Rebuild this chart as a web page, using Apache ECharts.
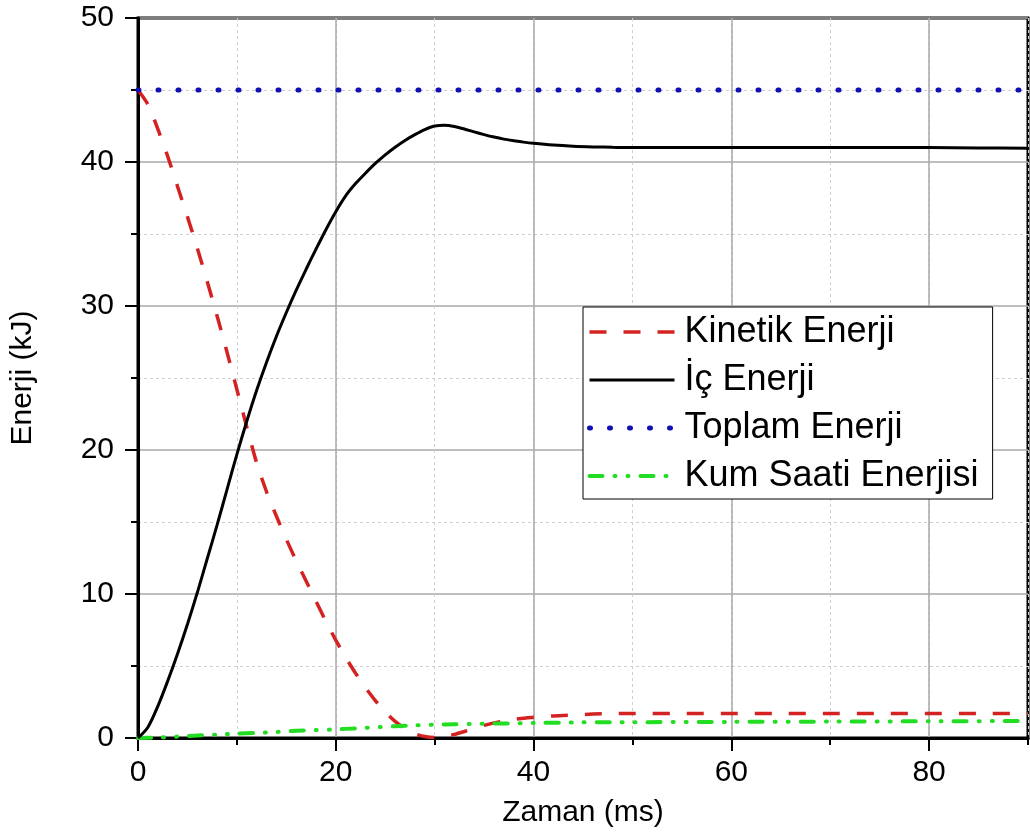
<!DOCTYPE html>
<html>
<head>
<meta charset="utf-8">
<script src="https://cdn.jsdelivr.net/npm/echarts@6/dist/echarts.min.js"></script>
<style>html,body{margin:0;padding:0;background:#fff}#c{width:1030px;height:836px}</style>
</head>
<body>
<div id="c"></div>
<script>
// Time axis (ms) for kinetic and internal energy
var timeMs = [0,1,2,3,4,5,6,7,8,9,10,11,12,13,14,15,16,17,18,19,20,21,22,23,24,25,26,27,28,29,30,31,32,33,34,35,36,37,38,39,40,42,44,46,48,50,55,60,65,70,75,80,85,90];
var kineticEnergy = [45,44.0,42.3,40.4,38.3,36.2,34.0,31.7,29.3,26.8,24.2,21.6,19.1,17.1,15.4,13.8,12.3,10.9,9.5,8.1,6.8,5.6,4.5,3.5,2.6,1.8,1.15,0.65,0.3,0.1,0.03,0.1,0.25,0.45,0.67,0.88,1.05,1.18,1.29,1.37,1.44,1.53,1.6,1.66,1.69,1.71,1.71,1.71,1.71,1.71,1.71,1.71,1.71,1.71];
var internalEnergy = [0,0.75,2.2,3.95,5.85,7.9,10.1,12.45,14.8,17.25,19.7,22.0,24.15,26.1,27.9,29.55,31.1,32.55,33.95,35.3,36.55,37.65,38.5,39.22,39.9,40.5,41.03,41.5,41.9,42.25,42.5,42.56,42.47,42.29,42.09,41.9,41.73,41.59,41.48,41.38,41.3,41.18,41.1,41.05,41.02,41.0,41.0,41.0,41.0,41.0,41.0,41.0,40.98,40.95];
var totalTime = [0,90];
var totalEnergy = [45,45];
var hourglassTime = [0,2,4,6,8,10,12,14,16,18,20,22,24,26,28,30,32,34,36,38,40,44,48,50,60,70,80,90];
var hourglassEnergy = [0,0.03,0.1,0.18,0.24,0.3,0.35,0.42,0.5,0.55,0.6,0.67,0.75,0.82,0.88,0.92,0.95,0.98,1.0,1.02,1.04,1.08,1.1,1.1,1.12,1.14,1.16,1.18];
var xMajorTicks = [0,20,40,60,80];
var seriesNames = ['Kinetik Enerji','İç Enerji','Toplam Enerji','Kum Saati Enerjisi'];

function pairs(xs, ys){ return xs.map(function(x,i){ return [x, ys[i]]; }); }

var RED = '#d42222', BLACK = '#000000', BLUE = '#1010b4', GREEN = '#22dd22';
var styles = [
  {color:RED, width:3.5, type:[17,17], cap:'butt'},
  {color:BLACK, width:3, type:'solid', cap:'butt'},
  {color:BLUE, width:5, type:[1,19], cap:'round'},
  {color:GREEN, width:4, type:[13,12,1,12,1,12], cap:'round'}
];

var FONT = 'Liberation Sans, Arial, sans-serif';
var chart = echarts.init(document.getElementById('c'), null, {renderer:'canvas'});
chart.setOption({
  animation: false,
  backgroundColor: '#fff',
  grid: {left:138, right:2, top:18, bottom:98, show:true, borderColor:'#000', borderWidth:3, backgroundColor:'transparent', containLabel:false, outerBoundsMode:'none'},
  legend: {
    orient:'vertical', left:583, top:307,
    data: seriesNames.map(function(n,i){
      return {name:n, itemStyle:{opacity:0}, lineStyle:{color:styles[i].color, width:styles[i].width, type:styles[i].type, cap:styles[i].cap}};
    }),
    itemWidth:85, itemHeight:14, itemGap:12,
    padding:[7,14,5,4],
    itemStyle:{opacity:0},
    backgroundColor:'#fff', borderColor:'#000', borderWidth:1, borderRadius:0,
    textStyle:{fontFamily:FONT, fontSize:36, color:'#000', padding:[0,0,0,5]}
  },
  xAxis: [
    {
      type:'value', min:0, max:90, interval:10, position:'bottom',
      axisLine:{show:true, onZero:false, lineStyle:{color:'#000', width:3}},
      axisTick:{show:true, length:7, lineStyle:{color:'#000', width:2}},
      axisLabel:{show:false},
      splitLine:{show:true, lineStyle:{color:'#cfcfcf', width:1, type:[3,3]}}
    },
    {
      type:'value', min:0, max:90, interval:20, position:'bottom',
      name:'Zaman (ms)', nameLocation:'middle', nameGap:60,
      nameTextStyle:{fontFamily:FONT, fontSize:30, color:'#000'},
      axisLine:{show:false, onZero:false},
      axisTick:{show:true, length:13, customValues:xMajorTicks, lineStyle:{color:'#000', width:2}},
      axisLabel:{show:true, customValues:xMajorTicks, fontFamily:FONT, fontSize:30, color:'#000', margin:20},
      splitLine:{show:true, lineStyle:{color:'#a8a8a8', width:1.5}}
    }
  ],
  yAxis: {
    type:'value', min:0, max:50, interval:10,
    name:'Enerji (kJ)', nameLocation:'middle', nameGap:100,
    nameTextStyle:{fontFamily:FONT, fontSize:30, color:'#000'},
    axisLine:{show:true, lineStyle:{color:'#000', width:3}},
    axisTick:{show:true, length:13, lineStyle:{color:'#000', width:2}},
    minorTick:{show:true, splitNumber:2, length:7, lineStyle:{color:'#000', width:2}},
    axisLabel:{fontFamily:FONT, fontSize:30, color:'#000', margin:24},
    splitLine:{show:true, lineStyle:{color:'#a8a8a8', width:1.5}},
    minorSplitLine:{show:true, lineStyle:{color:'#cfcfcf', width:1, type:[3,3]}}
  },
  series: [
    {name:seriesNames[0], type:'line', xAxisIndex:0, data:pairs(timeMs, kineticEnergy), symbol:'none', showSymbol:false, smooth:0.25,
     lineStyle:styles[0], itemStyle:{color:RED}, z:3},
    {name:seriesNames[1], type:'line', xAxisIndex:0, data:pairs(timeMs, internalEnergy), symbol:'none', showSymbol:false, smooth:0.3,
     lineStyle:styles[1], itemStyle:{color:BLACK}, z:4},
    {name:seriesNames[2], type:'line', xAxisIndex:0, data:pairs(totalTime, totalEnergy), symbol:'none', showSymbol:false,
     lineStyle:styles[2], itemStyle:{color:BLUE}, z:3},
    {name:seriesNames[3], type:'line', xAxisIndex:0, data:pairs(hourglassTime, hourglassEnergy), symbol:'none', showSymbol:false, smooth:0.25,
     lineStyle:styles[3], itemStyle:{color:GREEN}, z:3}
  ]
});
</script>
</body>
</html>
